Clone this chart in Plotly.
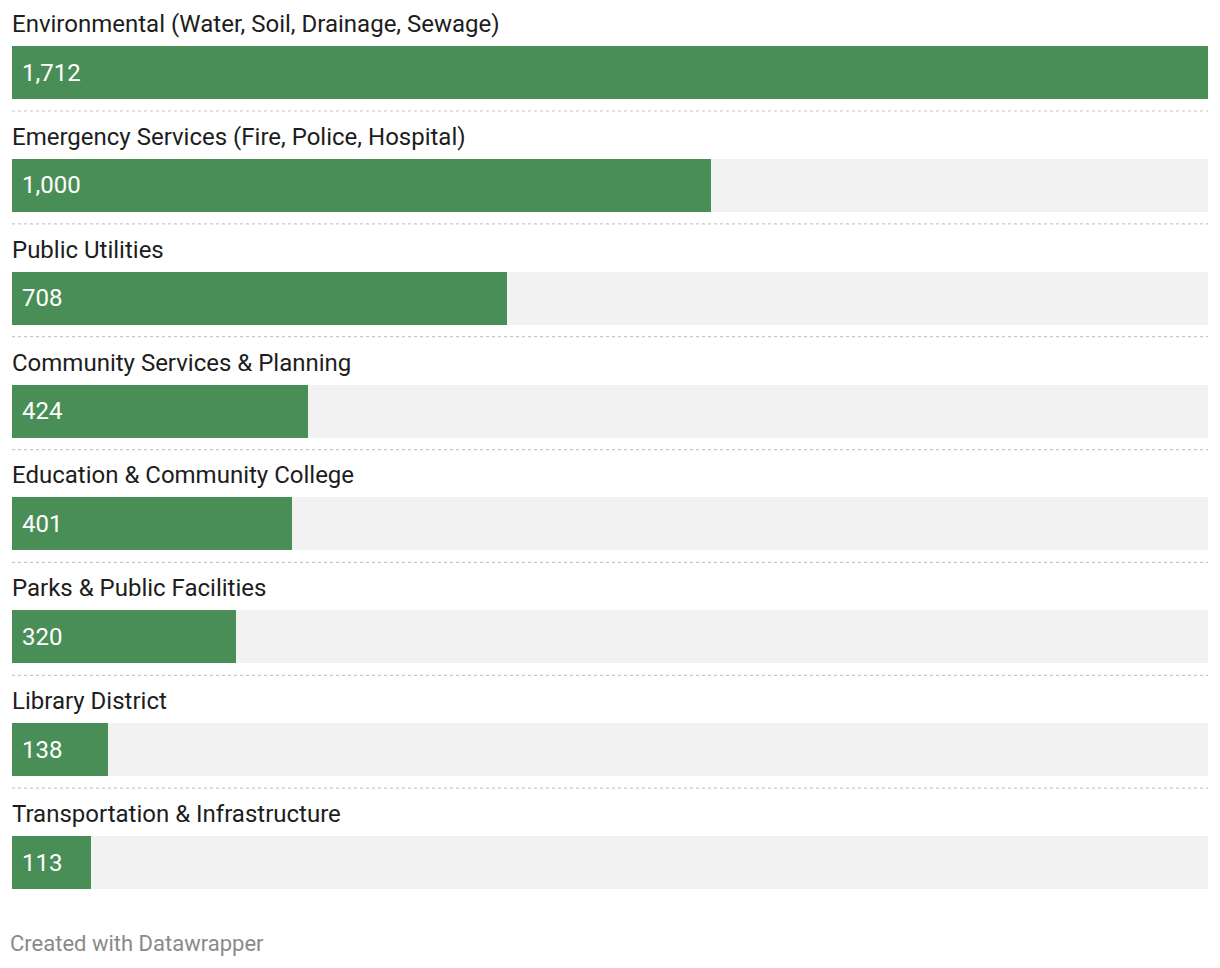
import plotly.graph_objects as go

categories = [
    "Environmental (Water, Soil, Drainage, Sewage)",
    "Emergency Services (Fire, Police, Hospital)",
    "Public Utilities",
    "Community Services & Planning",
    "Education & Community College",
    "Parks & Public Facilities",
    "Library District",
    "Transportation & Infrastructure",
]
values = [1712, 1000, 708, 424, 401, 320, 138, 113]

# page body has an 8px margin, so the figure is sized to fit the 1220x968 window
W, H = 1212, 960
PITCH = 112.86
FIRST_CENTER = 64.5
BAR_PX = 53
GREEN = "#4a8e57"
BG = "#f2f2f2"
FONT = "Roboto"

idx = list(range(len(categories)))
vmax = max(values)

fig = go.Figure()
fig.add_trace(go.Bar(
    y=idx, x=[vmax] * len(values), orientation="h",
    marker=dict(color=BG, line=dict(width=0)), width=BAR_PX / PITCH,
    hoverinfo="skip", showlegend=False,
))
fig.add_trace(go.Bar(
    y=idx, x=values, orientation="h",
    marker=dict(color=GREEN, line=dict(width=0)), width=BAR_PX / PITCH,
    showlegend=False, hovertemplate="%{x:,}<extra></extra>",
))

annotations = []
for i, (c, v) in enumerate(zip(categories, values)):
    annotations.append(dict(
        x=0, y=i - 48.5 / PITCH, xref="x", yref="y", text=c, showarrow=False,
        xanchor="left", yanchor="middle", xshift=-2,
        font=dict(family=FONT, size=24, color="#1d1d1d"),
    ))
    annotations.append(dict(
        x=0, y=i, xref="x", yref="y", text=f"{v:,}", showarrow=False, xshift=8,
        xanchor="left", yanchor="middle", font=dict(family=FONT, size=24, color="#ffffff"),
    ))
annotations.append(dict(
    x=0, y=1 - 935 / H, xref="paper", yref="paper", text="Created with Datawrapper",
    showarrow=False, xanchor="left", yanchor="middle", xshift=-4,
    font=dict(family=FONT, size=22, color="#8a8a8a"),
))

shapes = []
for i in idx[:-1]:
    yy = i + 38.5 / PITCH
    shapes.append(dict(type="line", xref="x", yref="y", x0=0, x1=vmax, y0=yy, y1=yy,
                       line=dict(color="#c8c8c8", width=1.2, dash="dot")))

top = -FIRST_CENTER / PITCH
bottom = (H - FIRST_CENTER) / PITCH

fig.update_layout(
    width=W, height=H,
    margin=dict(l=4, r=12, t=0, b=0),
    paper_bgcolor="white", plot_bgcolor="white",
    barmode="overlay", bargap=0,
    xaxis=dict(range=[0, vmax], visible=False, fixedrange=True),
    yaxis=dict(range=[bottom, top], visible=False, fixedrange=True),
    annotations=annotations, shapes=shapes,
    font=dict(family=FONT),
)

fig.write_html("out.html")
